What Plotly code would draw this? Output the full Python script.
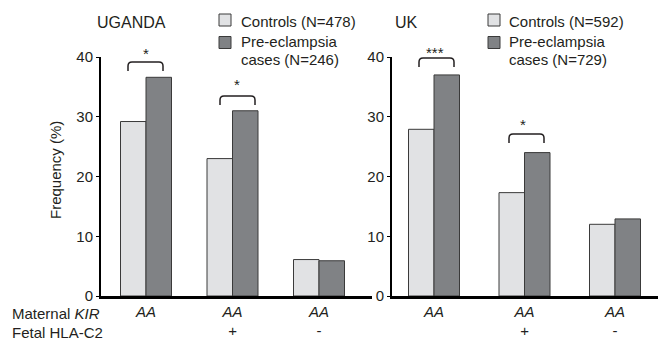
import plotly.graph_objects as go
from plotly.subplots import make_subplots

# ---------------- data ----------------
categories = ["AA", "AA +", "AA -"]
kir_labels = ["AA", "AA", "AA"]
hla_labels = ["", "+", "-"]

uganda_controls = [29.2, 23.0, 6.1]
uganda_cases = [36.6, 31.0, 5.9]
uk_controls = [27.9, 17.3, 12.0]
uk_cases = [37.0, 24.0, 12.9]

uganda_legend = ["Controls (N=478)", "Pre-eclampsia", "cases (N=246)"]
uk_legend = ["Controls (N=592)", "Pre-eclampsia", "cases (N=729)"]
y_ticks = [0, 10, 20, 30, 40]

# ---------------- style ----------------
W, H = 659, 341
FONT = "Liberation Sans"
TXT = "#231f20"
LIGHT = "#e1e2e4"
DARK = "#808285"
EDGE = "#3a3a3a"


def px(x):
    return x / W


def py(y):
    return 1 - y / H


fig = make_subplots(rows=1, cols=2)

ticktext = [f"<i>{k}</i><br>{h}" for k, h in zip(kir_labels, hla_labels)]

panels = [
    (1, uganda_controls, uganda_cases, 25.5 / 86.5),
    (2, uk_controls, uk_cases, 25.5 / 90.5),
]
for col, ctrl, case, w in panels:
    fig.add_trace(go.Bar(x=categories, y=ctrl, width=w, offset=-w,
                         marker=dict(color=LIGHT, line=dict(color=EDGE, width=1)),
                         showlegend=False, hoverinfo="skip"), row=1, col=col)
    fig.add_trace(go.Bar(x=categories, y=case, width=w, offset=0,
                         marker=dict(color=DARK, line=dict(color=EDGE, width=1)),
                         showlegend=False, hoverinfo="skip"), row=1, col=col)

ydom = [py(296), py(57)]
axis_common = dict(showgrid=False, zeroline=False, showline=True, linecolor="black",
                   automargin=False,
                   tickfont=dict(family=FONT, size=15, color=TXT))
fig.update_layout(
    xaxis=dict(domain=[px(101), px(372)], range=[-45 / 86.5, 226 / 86.5],
               tickvals=categories, ticktext=ticktext, ticks="", linewidth=2.5,
               **axis_common),
    xaxis2=dict(domain=[px(392), px(658)], range=[-42 / 90.5, 224 / 90.5],
                tickvals=categories, ticktext=ticktext, ticks="", linewidth=2.5,
                **axis_common),
    yaxis=dict(domain=ydom, range=[0, 40], tickvals=y_ticks, ticks="outside",
               ticklen=3, tickwidth=1, tickcolor="black", linewidth=2, **axis_common),
    yaxis2=dict(domain=ydom, range=[0, 40], tickvals=y_ticks, ticks="outside",
                ticklen=3, tickwidth=1, tickcolor="black", linewidth=2, **axis_common),
)

shapes = []
annotations = []


def bracket(x1, x2, yt, yb, r=4):
    p = (f"M {px(x1)},{py(yb)} L {px(x1)},{py(yt + r)} "
         f"Q {px(x1)},{py(yt)} {px(x1 + r)},{py(yt)} "
         f"L {px(x2 - r)},{py(yt)} Q {px(x2)},{py(yt)} {px(x2)},{py(yt + r)} "
         f"L {px(x2)},{py(yb)}")
    shapes.append(dict(type="path", path=p, xref="paper", yref="paper",
                       line=dict(color=TXT, width=1.5)))


def text(x, y, s, size=15, xanchor="center", angle=0):
    annotations.append(dict(x=px(x), y=py(y), xref="paper", yref="paper", text=s,
                            showarrow=False, xanchor=xanchor, yanchor="middle",
                            textangle=angle,
                            font=dict(family=FONT, size=size, color=TXT)))


# significance brackets
bracket(128, 163, 62, 71)
bracket(220, 255, 96, 105)
bracket(419, 454, 58, 67)
bracket(509, 544, 134, 143)
text(146, 54, "*")
text(237, 84, "*")
text(435, 53, "***")
text(523, 124, "*")

# titles
text(131, 23, "UGANDA", size=16)
text(406, 23, "UK", size=16)

# legends
for bx, tx, labels in [(219, 239, uganda_legend), (488, 507, uk_legend)]:
    shapes.append(dict(type="rect", xref="paper", yref="paper",
                       x0=px(bx), x1=px(bx + 12), y0=py(26), y1=py(14),
                       fillcolor=LIGHT, line=dict(color=EDGE, width=1)))
    shapes.append(dict(type="rect", xref="paper", yref="paper",
                       x0=px(bx), x1=px(bx + 12), y0=py(48.5), y1=py(36.5),
                       fillcolor=DARK, line=dict(color=EDGE, width=1)))
    text(tx, 22, labels[0], xanchor="left")
    text(tx, 41.5, labels[1], xanchor="left")
    text(tx, 59.5, labels[2], xanchor="left")

# axis title & row labels
text(55, 170, "Frequency (%)", angle=-90)
text(10, 313, "Maternal <i>KIR</i>", xanchor="left")
text(10, 332, "Fetal HLA-C2", xanchor="left")

fig.update_layout(
    width=W, height=H, margin=dict(l=0, r=0, t=0, b=0, pad=0, autoexpand=False),
    paper_bgcolor="white", plot_bgcolor="white",
    barmode="overlay", shapes=shapes, annotations=annotations,
    font=dict(family=FONT, size=15, color=TXT),
)

fig.write_html("out.html",
               config={"displayModeBar": False},
               post_script="document.body.style.margin='0';"
                           "document.body.style.overflow='hidden';")
